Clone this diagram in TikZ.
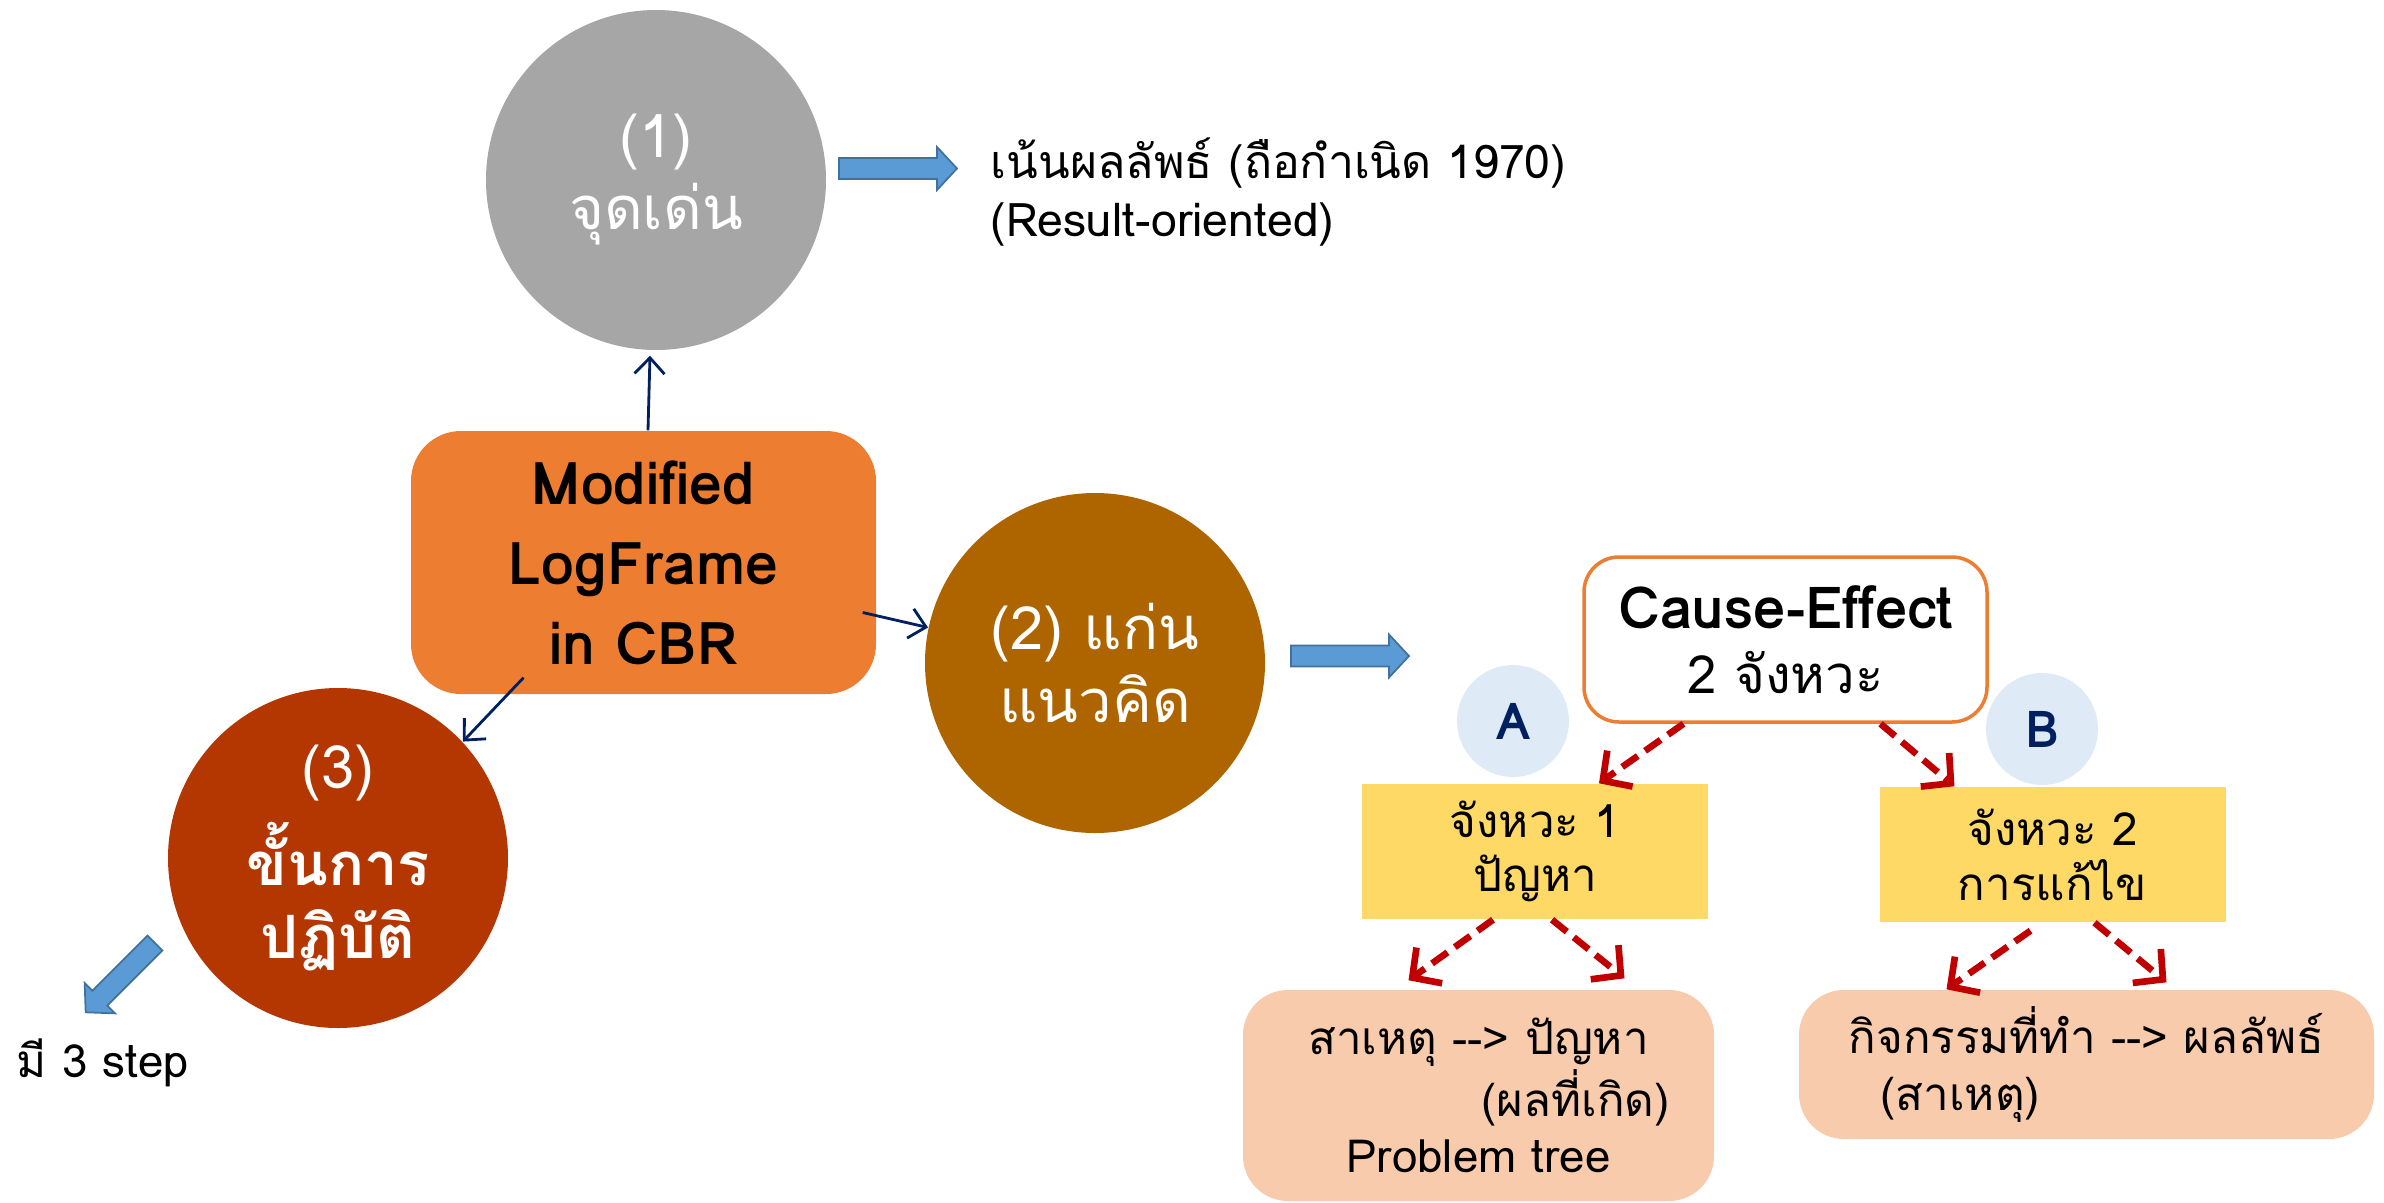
\documentclass[tikz,border=0pt]{standalone}
\usepackage{fontspec}
\setmainfont[Script=Thai]{Loma}
\usepackage{tikz}
\usetikzlibrary{arrows.meta, positioning, calc}
\definecolor{circlegray}{RGB}{166,166,166}
\definecolor{frameorange}{RGB}{237,125,49}
\definecolor{ideabrown}{RGB}{174,101,0}
\definecolor{steprust}{RGB}{180,54,0}
\definecolor{arrowblue}{RGB}{91,155,213}
\definecolor{arrowedge}{RGB}{65,113,156}
\definecolor{linknavy}{RGB}{0,32,96}
\definecolor{dashred}{RGB}{192,0,0}
\definecolor{labelblue}{RGB}{222,235,247}
\definecolor{stageyellow}{RGB}{255,217,102}
\definecolor{notepeach}{RGB}{248,203,173}
\newcommand{\causeto}{-\kern0pt-\kern0pt>}

\tikzset{
	bigcircle/.style={circle, minimum size=34mm, inner sep=0pt, text=white, align=center, font=\fontsize{17}{20.5}\selectfont},
	navylink/.style={linknavy, line width=0.8pt, -{Straight Barb[length=1.6mm,width=3mm]}},
	redlink/.style={dashred, line width=1.9pt, dash pattern=on 1.9mm off 0.9mm, -{Straight Barb[length=2.1mm,width=4.4mm]}},
	stagebox/.style={fill=stageyellow, minimum width=34.6mm, minimum height=13.5mm, align=center, font=\fontsize{13}{15.6}\selectfont},
	notebox/.style={fill=notepeach, rounded corners=4.5mm, font=\fontsize{13}{16}\selectfont},
	letterdot/.style={circle, fill=labelblue, minimum size=11.2mm, inner sep=0pt, text=linknavy, font=\fontsize{14.5}{16}\selectfont\bfseries},
	blockarrow/.style={draw=arrowedge, line width=0.5pt, fill=arrowblue}
}

\begin{document}
\begin{tikzpicture}[x=0.1mm, y=-0.1mm]
	\useasboundingbox (0,0) rectangle (2384,1202);
	\pgfmathsetmacro{\headlen}{20}
	\pgfmathsetmacro{\bodyhalf}{10.5}
	\pgfmathsetmacro{\headhalf}{21.5}

	\node[bigcircle, fill=circlegray] (c1) at (656,180) {(1)\\จุดเด่น};
	\node[bigcircle, fill=ideabrown] (c2) at (1095,663) {(2) แก่น\\แนวคิด};
	\node[bigcircle, fill=steprust, font=\fontsize{17}{20.5}\selectfont\bfseries] (c3) at (338,858) {{\mdseries\fontsize{17}{20}\selectfont (3)}\\[5pt]ขั้นการ\\ปฏิบัติ};

	\node[fill=frameorange, rounded corners=5mm, minimum width=46.5mm, minimum height=26.3mm, align=center, font=\fontsize{16.8}{22.8}\selectfont\bfseries] (frame) at (643.5,562.5) {Modified\\LogFrame\\in CBR};

	\node[anchor=west, align=left, inner sep=0pt, font=\fontsize{13.2}{16.5}\selectfont] (result) at (990,192) {เน้นผลลัพธ์ (ถือกำเนิด 1970)\\(Result-oriented)};
	\node[anchor=west, inner sep=0pt, font=\fontsize{13}{16}\selectfont] (steps) at (16,1063) {มี 3 step};

	\node[draw=frameorange, line width=1pt, fill=white, rounded corners=3.5mm, minimum width=40.3mm, minimum height=16.5mm, align=center, font=\fontsize{15}{18.5}\selectfont] (cause) at (1785.5,639.5) {{\bfseries\fontsize{16.5}{18.5}\selectfont Cause-Effect}\\2 จังหวะ};
	\node[letterdot] (dotA) at (1513,721) {A};
	\node[letterdot] (dotB) at (2042,729) {B};

	\node[stagebox] (stage1) at (1535,851.5) {จังหวะ 1\\ปัญหา};
	\node[stagebox] (stage2) at (2052.5,854.5) {จังหวะ 2\\การแก้ไข};

	\node[notebox, align=center, minimum width=47.1mm, minimum height=21.1mm] (note1) at (1478.5,1095.5) {สาเหตุ \causeto{} ปัญหา\\\hspace*{19.4mm}(ผลที่เกิด)\\Problem tree};
	\node[notebox, align=left, minimum width=57.5mm, minimum height=14.9mm] (note2) at (2086.5,1064.5) {กิจกรรมที่ทำ \causeto{} ผลลัพธ์\\\hspace*{3.2mm}(สาเหตุ)};

	% thin links out of the frame
	\draw[navylink] ([xshift=0.45mm]frame.north) -- ([xshift=-0.6mm,yshift=-0.5mm]c1.south);
	\draw[navylink] ([xshift=-1.4mm,yshift=-5mm]frame.east) -- (c2.168);
	\draw[navylink] ([xshift=-12mm,yshift=1.7mm]frame.south) -- (c3.43);

	% dashed links of the two steps
	\draw[redlink] ([xshift=-10.2mm]cause.south) -- ([xshift=6.4mm]stage1.north);
	\draw[redlink] ([xshift=9.5mm]cause.south) -- ([xshift=-9.8mm]stage2.north);
	\draw[redlink] ([xshift=-4.2mm]stage1.south) -- ([xshift=-7mm,yshift=0.9mm]note1.north);
	\draw[redlink] ([xshift=1.7mm]stage1.south) -- ([xshift=14.6mm,yshift=1.1mm]note1.north);
	\draw[redlink] ([xshift=-2.2mm,yshift=-0.8mm]stage2.south) -- ([xshift=-14mm]note2.north);
	\draw[redlink] ([xshift=4.2mm]stage2.south) -- ([xshift=8mm,yshift=0.7mm]note2.north);

	\foreach \ax/\ay/\ang/\len in {839/168.5/0/118, 1291/656/0/118, 155/943/-135/98}
	{
		\begin{scope}[shift={(\ax,\ay)}, rotate=\ang]
			\draw[blockarrow] (0,-\bodyhalf) -- (\len-\headlen,-\bodyhalf) -- (\len-\headlen,-\headhalf) -- (\len,0) -- (\len-\headlen,\headhalf) -- (\len-\headlen,\bodyhalf) -- (0,\bodyhalf) -- cycle;
		\end{scope}
	}
\end{tikzpicture}
\end{document}
